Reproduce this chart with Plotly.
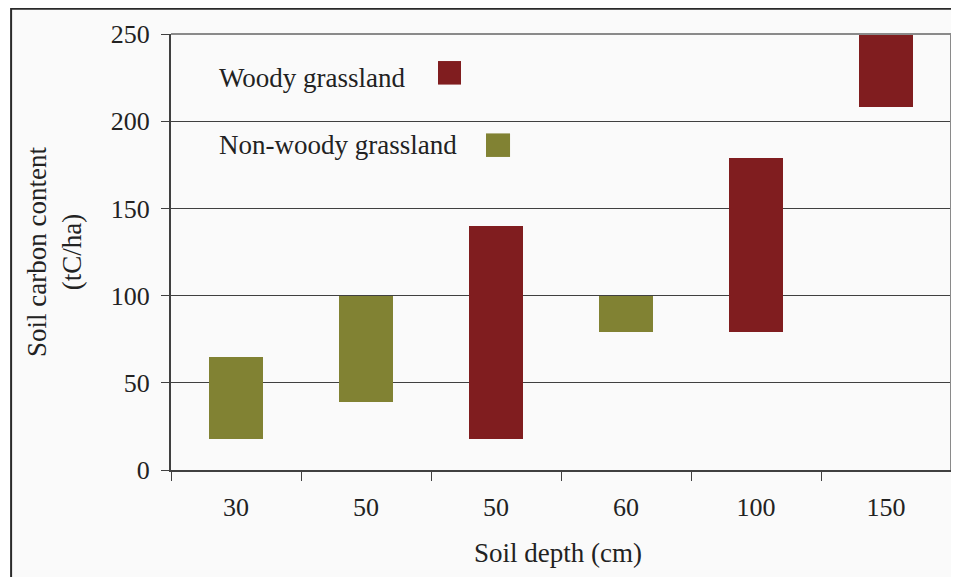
import plotly.graph_objects as go

# Data
depth_labels = ['30', '50', '50', '60', '100', '150']
low_values = [18, 39, 18, 79, 79, 208]
high_values = [65, 100, 140, 100, 179, 250]
land_type = ['Non-woody', 'Non-woody', 'Woody', 'Non-woody', 'Woody', 'Woody']

WOODY = '#801d1f'
NON_WOODY = '#818233'
FONT = 'Liberation Serif'

positions = list(range(len(depth_labels)))
colors = [WOODY if t == 'Woody' else NON_WOODY for t in land_type]

fig = go.Figure()

fig.add_trace(go.Bar(
    x=positions,
    y=[h - l for h, l in zip(high_values, low_values)],
    base=low_values,
    width=0.42,
    marker=dict(color=colors, line=dict(width=0)),
    showlegend=False,
    hoverinfo='skip',
))

# legend drawn inside the plot like the original
fig.add_annotation(x=-0.15, y=225, xref='x', yref='y', text='Woody grassland',
                   showarrow=False, xanchor='left', yanchor='middle',
                   font=dict(family=FONT, size=27, color='#222'))
fig.add_annotation(x=-0.15, y=186.5, xref='x', yref='y', text='Non-woody grassland',
                   showarrow=False, xanchor='left', yanchor='middle',
                   font=dict(family=FONT, size=27, color='#222'))
fig.add_shape(type='rect', xref='x', yref='y', x0=1.554, x1=1.731, y0=221, y1=234.5,
              fillcolor=WOODY, line=dict(width=0))
fig.add_shape(type='rect', xref='x', yref='y', x0=1.923, x1=2.108, y0=179.5, y1=193,
              fillcolor=NON_WOODY, line=dict(width=0))

# axis titles
fig.add_annotation(x=0.496, y=-0.19, xref='paper', yref='paper', text='Soil depth (cm)',
                   showarrow=False, xanchor='center', yanchor='middle',
                   font=dict(family=FONT, size=27, color='#222'))
fig.add_annotation(x=-0.15, y=0.5, xref='paper', yref='paper',
                   text='Soil carbon content<br>(tC/ha)', textangle=-90,
                   showarrow=False, xanchor='center', yanchor='middle',
                   font=dict(family=FONT, size=27, color='#222'))

# outer frame and grey plot border (top / right)
fig.add_shape(type='rect', xref='paper', yref='paper', x0=-0.205, x1=1.1, y0=-0.3, y1=1.058,
              fillcolor='#fafafa', line=dict(color='#2a2a2a', width=2), layer='below')
fig.add_shape(type='line', xref='paper', yref='paper', x0=0, x1=1, y0=1, y1=1,
              line=dict(color='#8a8a8a', width=2))
fig.add_shape(type='line', xref='paper', yref='paper', x0=1, x1=1, y0=0, y1=1,
              line=dict(color='#8a8a8a', width=2))

# the page body adds an 8px offset, margins account for it
fig.update_layout(
    width=959,
    height=577,
    margin=dict(l=163, r=16, t=26, b=115),
    paper_bgcolor='white',
    plot_bgcolor='#fafafa',
    font=dict(family=FONT, size=26, color='#222'),
    bargap=0,
    xaxis=dict(
        range=[-0.5, 5.5],
        tickvals=positions,
        ticktext=depth_labels,
        ticks='',
        ticklabelstandoff=13,
        showgrid=False,
        showline=True,
        linecolor='#404040',
        linewidth=2,
        zeroline=False,
        automargin=False,
        minor=dict(tickvals=[p - 0.5 for p in positions] + [5.5], ticks='outside',
                   ticklen=9, tickcolor='#404040', tickwidth=1),
    ),
    yaxis=dict(
        range=[0, 250],
        tickvals=[0, 50, 100, 150, 200, 250],
        ticks='outside',
        ticklen=8,
        tickcolor='#404040',
        showgrid=True,
        gridcolor='#404040',
        gridwidth=1,
        showline=True,
        linecolor='#404040',
        linewidth=2,
        zeroline=False,
        automargin=False,
        ticklabelstandoff=6,
    ),
)

fig.write_html('out.html')
